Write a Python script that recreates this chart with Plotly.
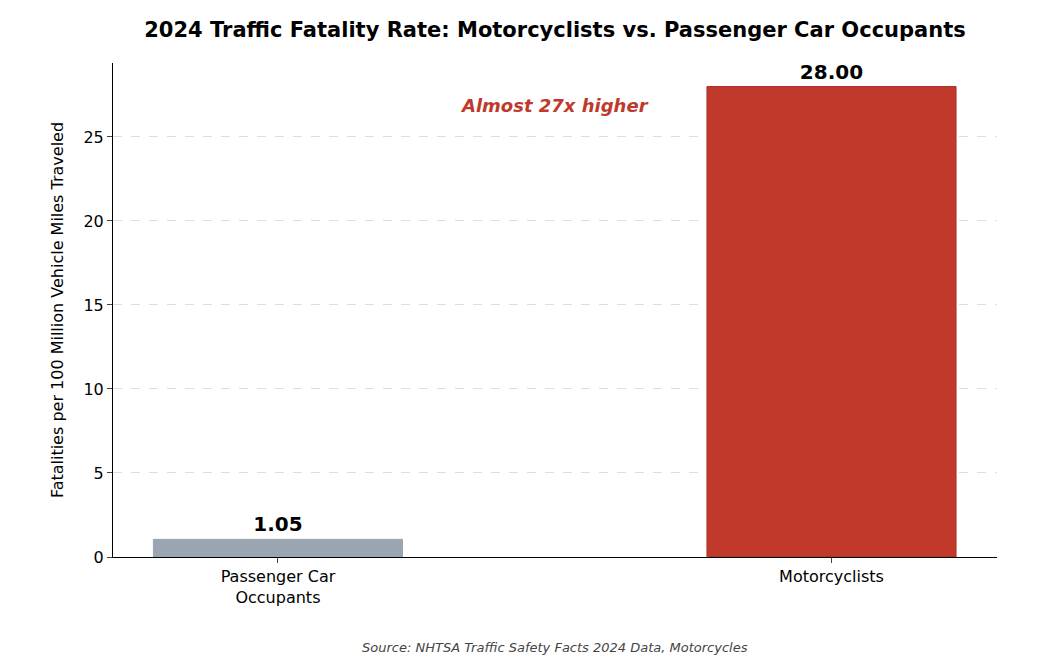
import plotly.graph_objects as go

categories = ["Passenger Car<br>Occupants", "Motorcyclists"]
rates = [1.05, 28.00]
colors = ["#9aa5b1", "#c0392b"]
yticks = [0, 5, 10, 15, 20, 25]

fig = go.Figure(go.Bar(
    x=[0, 1], y=rates, width=0.45,
    marker=dict(color=colors, line=dict(color=["#9aa5b1", "#a93226"], width=1)),
    text=[f"<b>{v:.2f}</b>" for v in rates], textposition="outside",
    textfont=dict(size=20, color="black", family="DejaVu Sans"),
    cliponaxis=False,
))
fig.add_annotation(x=0.5, y=26.9, text="<b><i>Almost 27x higher</i></b>", showarrow=False,
                   font=dict(size=18, color="#c0392b", family="DejaVu Sans"))
fig.add_annotation(xref="paper", yref="paper", x=0.5, y=-0.184, yanchor="middle",
                   text="<i>Source: NHTSA Traffic Safety Facts 2024 Data, Motorcycles</i>",
                   showarrow=False, font=dict(size=13, color="#444", family="DejaVu Sans"))
fig.update_layout(
    width=1041, height=648, plot_bgcolor="white", paper_bgcolor="white",
    margin=dict(l=105, r=52, t=55, b=99),
    title=dict(text="<b>2024 Traffic Fatality Rate: Motorcyclists vs. Passenger Car Occupants</b>",
               x=0.5, xref="paper", y=0.966, yanchor="middle",
               font=dict(size=21, color="black", family="DejaVu Sans")),
    font=dict(family="DejaVu Sans", size=16, color="black"),
    showlegend=False,
    xaxis=dict(range=[-0.298, 1.299], tickvals=[0, 1], ticktext=categories,
               showline=True, linecolor="black", ticks="outside", ticklen=5, showgrid=False),
    yaxis=dict(range=[0, 29.4], tickvals=yticks, showline=True, linecolor="black",
               ticks="outside", ticklen=5, gridcolor="#dddddd", griddash="dash",
               zeroline=False,
               title=dict(text="Fatalities per 100 Million Vehicle Miles Traveled", font=dict(size=16))),
)
fig.write_html("out.html")
